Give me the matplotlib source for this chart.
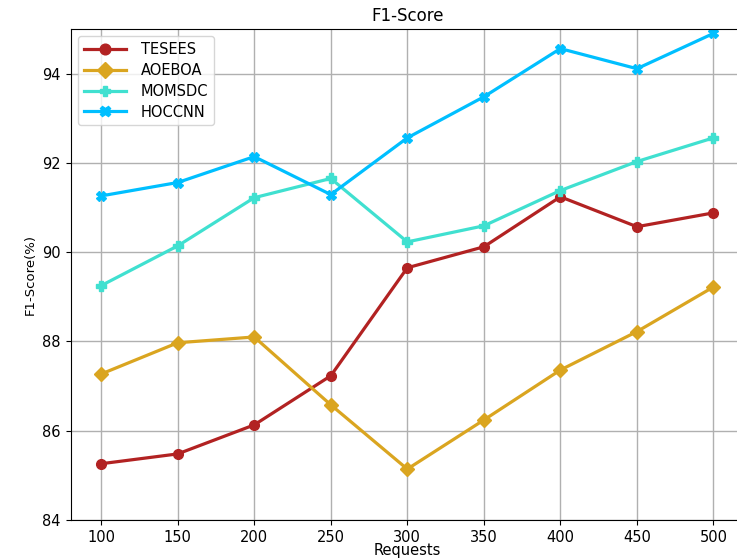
import matplotlib
matplotlib.use("Agg")
import matplotlib.pyplot as plt

requests = [100, 150, 200, 250, 300, 350, 400, 450, 500]
tesees = [85.26, 85.48, 86.13, 87.23, 89.65, 90.12, 91.24, 90.57, 90.88]
aoeboa = [87.27, 87.97, 88.10, 86.58, 85.14, 86.24, 87.36, 88.22, 89.22]
momsdc = [89.25, 90.14, 91.22, 91.65, 90.23, 90.59, 91.38, 92.03, 92.56]
hoccnn = [91.26, 91.56, 92.14, 91.29, 92.56, 93.48, 94.56, 94.11, 94.90]

fig = plt.figure(figsize=(7.37, 5.59), dpi=100)
ax = fig.add_axes([0.0957, 0.0698, 0.9139, 0.8784])

ax.plot(requests, tesees, color="#b22222", marker="o", lw=2.3, ms=7, label="TESEES")
ax.plot(requests, aoeboa, color="#daa520", marker="D", lw=2.3, ms=7, label="AOEBOA")
ax.plot(requests, momsdc, color="#40e0d0", marker="P", lw=2.3, ms=7, label="MOMSDC")
ax.plot(requests, hoccnn, color="#00bfff", marker="X", lw=2.3, ms=7, label="HOCCNN")

ax.set_xlim(80, 520)
ax.set_ylim(84, 95)
ax.set_xticks(requests)
ax.set_yticks([84, 86, 88, 90, 92, 94])
ax.grid(True, color="#b0b0b0", lw=1)
ax.set_axisbelow(True)
ax.tick_params(labelsize=10.5)

ax.set_title("F1-Score", fontsize=12)
ax.set_xlabel("Requests", fontsize=10.5, labelpad=-1)
ax.set_ylabel("F1-Score(%)", fontsize=9.5)
ax.legend(loc="upper left", fontsize=10.5, labelspacing=0.4,
          handlelength=2.9, markerscale=1.1, handletextpad=1.0)

fig.savefig("out.png", dpi=100)
